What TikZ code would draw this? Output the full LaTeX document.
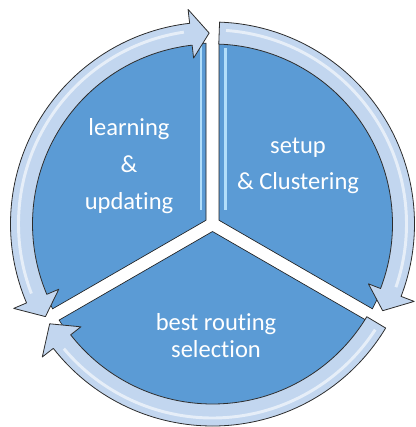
\documentclass[tikz,border=0pt]{standalone}
\usepackage{fontspec}
\setmainfont[Ligatures={NoCommon}]{Carlito}
\usepackage{tikz}

\begin{document}
\begin{tikzpicture}[x=0.75pt,y=0.75pt,yscale=-1,xscale=1,
  piece/.style={draw={rgb, 255:red, 35; green, 35; blue, 35 },line width=0.5pt,fill={rgb, 255:red, 91; green, 155; blue, 213 }},
  ringarrow/.style={draw={rgb, 255:red, 45; green, 45; blue, 45 },line width=0.6pt,fill={rgb, 255:red, 194; green, 214; blue, 239 },line join=round},
  shine/.style={draw=white,line width=2.2pt,opacity=0.6},
  stripe/.style={draw={rgb, 255:red, 178; green, 222; blue, 250 },line width=2pt},
  txt/.style={text=white,font=\fontsize{18.4}{20.25}\selectfont,align=center}]
\useasboundingbox (0,0) rectangle (416,427);

\begin{scope}[shift={(212.5,224)}]
%Pie piece: left
\draw [piece] (210:7.5) -- (152.06:181) arc[start angle=152.06,end angle=267.94,radius=181] -- cycle ;
%Pie piece: right
\draw [piece] (330:7.5) -- (272.06:181) arc[start angle=272.06,end angle=387.94,radius=181] -- cycle ;
%Pie piece: bottom
\draw [piece] (90:7.5) -- (32.06:181) arc[start angle=32.06,end angle=147.94,radius=181] -- cycle ;
%Highlights along the upper gap
\draw [stripe] (-11.5,-182) -- (-11.5,-14) ;
\draw [stripe] (13,-176) -- (13,-14) ;

%Curved Arrow: right
\draw [ringarrow] (272:202) arc[start angle=272,end angle=381,radius=202] -- (381:216) -- (387:191) -- (381:167) -- (381:180) arc[start angle=381,end angle=272,radius=180] -- cycle ;
\draw [shine] (274:194) arc[start angle=274,end angle=379,radius=194] ;
%Curved Arrow: bottom
\draw [ringarrow] (31:202) arc[start angle=31,end angle=142,radius=202] -- (142:216) -- (148.5:191) -- (142:167) -- (142:180) arc[start angle=142,end angle=31,radius=180] -- cycle ;
\draw [shine] (33:194) arc[start angle=33,end angle=140,radius=194] ;
%Curved Arrow: left, two heads
\draw [ringarrow] (151:191) -- (157:216) -- (157:202) arc[start angle=157,end angle=263.5,radius=202] -- (263.5:216) -- (269:191) -- (263.5:167) -- (263.5:180) arc[start angle=263.5,end angle=157,radius=180] -- (157:167) -- cycle ;
\draw [shine] (159:194) arc[start angle=159,end angle=261.5,radius=194] ;
\end{scope}

% Text Node
\node [txt] (learn) at (129,166) {learning\\[7.5pt]\&\\[7.5pt]updating};
% Text Node
\node [txt] (setup) at (298,166) {setup\\[7pt]\& Clustering};
% Text Node
\node [txt] (route) at (216,336) {best routing\\selection};

\end{tikzpicture}
\end{document}
